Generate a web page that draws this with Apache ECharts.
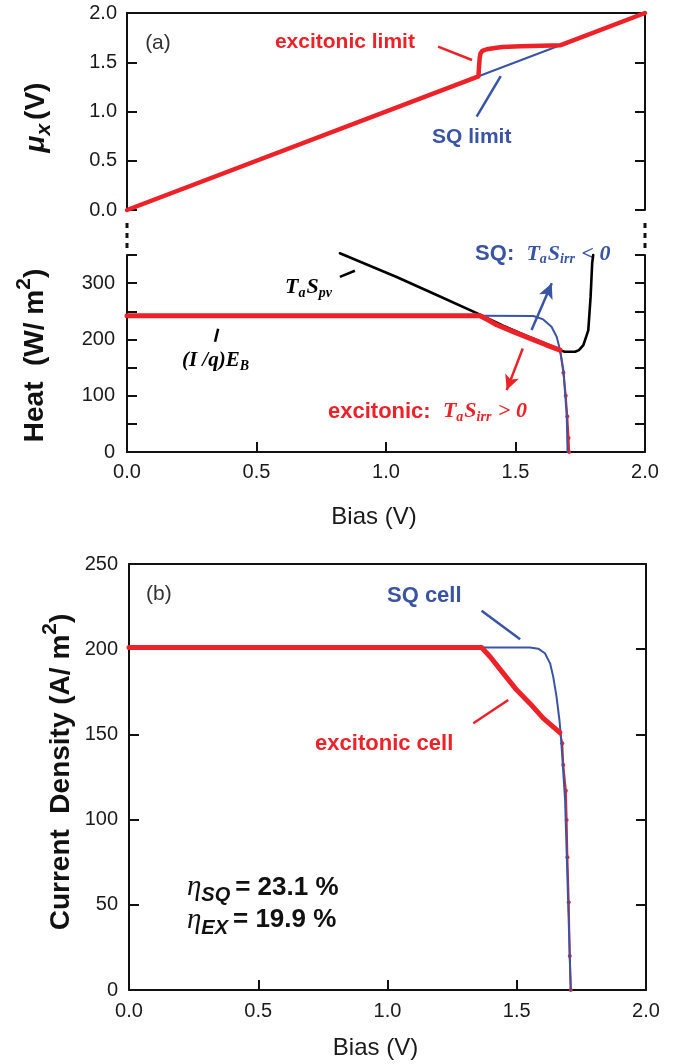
<!DOCTYPE html>
<html>
<head>
<meta charset="utf-8">
<script src="https://cdn.jsdelivr.net/npm/echarts@6/dist/echarts.min.js"></script>
<style>
html,body{margin:0;padding:0;background:#fff}
#chart{width:675px;height:1064px}
</style>
</head>
<body>
<div id="chart"></div>
<script>
// ---------- data ----------
// (a) upper: exciton chemical potential mu_x (V) versus bias (V)
const muSQ = [[0, 0], [1.36, 1.36], [1.67, 1.67], [2, 2]];
const muEX = [[0, 0], [1.357, 1.357], [1.359, 1.45], [1.362, 1.55], [1.365, 1.59], [1.372, 1.615],
  [1.389, 1.632], [1.42, 1.645], [1.45, 1.655], [1.52, 1.662], [1.6, 1.668], [1.672, 1.672], [2, 2]];

// (a) lower: heat terms (W/m^2) versus bias (V)
const heatTSpv = [[0.822, 353], [1.041, 311], [1.2, 278], [1.363, 244], [1.45, 225], [1.55, 205],
  [1.62, 192], [1.672, 181], [1.69, 178], [1.73, 178], [1.745, 181], [1.762, 190], [1.781, 216],
  [1.79, 276], [1.796, 335], [1.8, 350]];
const heatSQ = [[0, 242], [1.363, 242], [1.569, 241.6], [1.607, 235.6], [1.639, 222.6], [1.659, 204.8],
  [1.672, 181], [1.685, 145.6], [1.698, 62.7], [1.701, 0]];
const heatEX = [[0, 242], [1.363, 242], [1.397, 234], [1.427, 226], [1.5, 212], [1.556, 202],
  [1.62, 190], [1.672, 181]];
const heatEXtail = [[1.672, 181], [1.685, 141], [1.694, 100], [1.7, 63], [1.705, 25], [1.707, 0]];

// (b) current density (A/m^2) versus bias (V)
const curSQ = [[0, 201], [1.364, 201], [1.551, 201], [1.583, 200.3], [1.609, 197.6], [1.629, 191.7],
  [1.641, 183.9], [1.654, 172], [1.665, 158.5], [1.671, 148.7], [1.687, 111.5], [1.709, 0]];
const curEX = [[0, 201], [1.364, 201], [1.397, 195.6], [1.448, 185.8], [1.5, 176], [1.551, 168.2],
  [1.603, 159.4], [1.667, 151]];
const curEXtail = [[1.667, 151], [1.676, 144.8], [1.68, 132], [1.69, 117], [1.693, 99.8], [1.696, 77.9],
  [1.701, 51.5], [1.705, 20], [1.709, 0]];

// axis ranges and tick steps
const biasRange = [0, 2], biasStep = 0.5;
const muRange = [0, 2], muStep = 0.5;
const heatRange = [0, 350], heatStep = 50, heatLabelStep = 100;
const curRange = [0, 250], curStep = 50;

// efficiencies quoted in panel (b)
const etaSQ = '23.1', etaEX = '19.9';

// ---------- styling ----------
const RED = '#ec2228', BLUE = '#3a54a5', INK = '#111';
const SANS = '"Liberation Sans", Arial, Helvetica, sans-serif';
const SERIF = '"Liberation Serif", "Times New Roman", serif';

const chart = echarts.init(document.getElementById('chart'), null, {renderer: 'canvas'});

function frameAxis(extra) {
  return Object.assign({
    type: 'value',
    axisLine: {show: true, onZero: false, lineStyle: {color: INK, width: 2}},
    axisTick: {show: true, inside: true, length: 10, lineStyle: {color: INK, width: 2}},
    axisLabel: {show: false},
    splitLine: {show: false}
  }, extra);
}
const tickLabel = {show: true, color: '#1a1a1a', fontSize: 20, fontFamily: SANS};

const option = {
  animation: false,
  backgroundColor: '#fff',
  grid: [
    {left: 127, right: 30, top: 13, height: 197},
    {left: 127, right: 30, top: 255, height: 197},
    {left: 129, right: 29, top: 564, height: 426}
  ],
  xAxis: [
    // 0: upper panel, no bottom line
    frameAxis({gridIndex: 0, min: biasRange[0], max: biasRange[1], interval: biasStep,
      axisLine: {show: false}, axisTick: {show: false}}),
    // 1: upper panel top frame
    frameAxis({gridIndex: 0, position: 'top', min: biasRange[0], max: biasRange[1], interval: biasStep,
      axisTick: {show: false}}),
    // 2: heat panel bias axis
    frameAxis({gridIndex: 1, min: biasRange[0], max: biasRange[1], interval: biasStep,
      axisLabel: Object.assign({}, tickLabel, {margin: 10, formatter: v => v.toFixed(1)}),
      name: 'Bias (V)', nameLocation: 'middle', nameGap: 53,
      nameTextStyle: {fontSize: 24, fontFamily: SANS, color: '#1a1a1a', padding: [0, 24, 0, 0]}}),
    // 3: panel (b) bias axis
    frameAxis({gridIndex: 2, min: biasRange[0], max: biasRange[1], interval: biasStep,
      axisLabel: Object.assign({}, tickLabel, {margin: 11, formatter: v => v.toFixed(1)}),
      name: 'Bias (V)', nameLocation: 'middle', nameGap: 46,
      nameTextStyle: {fontSize: 24, fontFamily: SANS, color: '#1a1a1a', padding: [0, 24, 0, 0]}}),
    // 4: panel (b) top frame
    frameAxis({gridIndex: 2, position: 'top', min: biasRange[0], max: biasRange[1], interval: biasStep,
      axisTick: {show: false}})
  ],
  yAxis: [
    frameAxis({gridIndex: 0, min: muRange[0], max: muRange[1], interval: muStep,
      axisLabel: Object.assign({}, tickLabel, {margin: 10, formatter: v => v.toFixed(1)})}),
    frameAxis({gridIndex: 0, position: 'right', min: muRange[0], max: muRange[1], interval: muStep}),
    frameAxis({gridIndex: 1, min: heatRange[0], max: heatRange[1], interval: heatStep,
      axisLabel: Object.assign({}, tickLabel, {margin: 12, showMaxLabel: true,
        formatter: v => (v % heatLabelStep === 0 ? String(v) : '')})}),
    frameAxis({gridIndex: 1, position: 'right', min: heatRange[0], max: heatRange[1], interval: heatStep}),
    frameAxis({gridIndex: 2, min: curRange[0], max: curRange[1], interval: curStep,
      axisLabel: Object.assign({}, tickLabel, {margin: 11, formatter: v => String(v)})}),
    frameAxis({gridIndex: 2, position: 'right', min: curRange[0], max: curRange[1], interval: curStep})
  ],
  series: []
};

function leader(a, b, color, arrow) {
  return [{coord: a, lineStyle: {color: color, width: 2.5, type: 'solid'},
    symbol: 'none'}, {coord: b, symbol: arrow ? 'arrow' : 'none', symbolSize: arrow ? [11, 15] : 0}];
}
function marks(list) {
  return {silent: true, animation: false, symbol: 'none', label: {show: false},
    emphasis: {disabled: true}, data: list};
}
function line(name, data, xi, yi, color, width, z, extra) {
  return Object.assign({
    name: name, type: 'line', data: data, xAxisIndex: xi, yAxisIndex: yi,
    showSymbol: false, symbol: 'none', z: z, clip: false,
    lineStyle: {color: color, width: width, join: 'round', cap: 'round'},
    itemStyle: {color: color}, emphasis: {disabled: true}
  }, extra || {});
}

// drawing order: red tails under the blue curves, thick red curves on top of both
option.series = [
  // upper panel
  line('SQ limit', muSQ, 0, 0, BLUE, 2, 2),
  line('excitonic limit', muEX, 0, 0, RED, 4.5, 4, {
    markLine: marks([
      leader([1.201, 1.658], [1.332, 1.523], RED),
      leader([1.350, 0.947], [1.443, 1.360], BLUE)
    ])
  }),
  // heat panel
  line('TaSpv', heatTSpv, 2, 2, '#000', 2.6, 2, {
    markLine: marks([
      leader([0.822, 311], [0.880, 322], '#000'),
      leader([0.352, 219], [0.340, 196], '#000')
    ])
  }),
  line('excitonic heat tail', heatEXtail, 2, 2, RED, 2, 2, {
    showSymbol: true, showAllSymbol: true, symbol: 'circle', symbolSize: 4
  }),
  line('SQ heat', heatSQ, 2, 2, BLUE, 2, 3, {
    markLine: marks([
      leader([1.562, 216.7], [1.640, 299.6], BLUE, true),
      leader([1.528, 184], [1.466, 110], RED, true)
    ])
  }),
  line('excitonic heat', heatEX, 2, 2, RED, 5, 4),
  // panel (b)
  line('excitonic cell tail', curEXtail, 3, 4, RED, 2, 2, {
    showSymbol: true, showAllSymbol: true, symbol: 'circle', symbolSize: 4
  }),
  line('SQ cell', curSQ, 3, 4, BLUE, 2, 3, {
    markLine: marks([
      leader([1.364, 222.6], [1.513, 205.8], BLUE),
      leader([1.332, 156.5], [1.467, 170.2], RED)
    ])
  }),
  line('excitonic cell', curEX, 3, 4, RED, 5, 4)
];

chart.setOption(option);

// ---------- text annotations (subscripts / superscripts laid out piecewise) ----------
const measureCtx = document.createElement('canvas').getContext('2d');
function fontOf(p) {
  return (p.italic ? 'italic ' : '') + (p.bold ? 'bold ' : '') + p.size + 'px ' + (p.family || SANS);
}
function textWidth(t, f) { measureCtx.font = f; return measureCtx.measureText(t).width; }
function runOf(parts, color) {
  let x = 0;
  const els = [];
  parts.forEach(p => {
    const f = fontOf(p);
    els.push({
      type: 'text', x: x, y: p.dy || 0, silent: true,
      style: {text: p.text, font: f, fill: p.color || color,
        textAlign: 'left', textVerticalAlign: 'middle', align: 'left', verticalAlign: 'middle'}
    });
    x += textWidth(p.text, f) + (p.gap || 0);
  });
  return {els: els, width: x};
}
function labelAt(gridIndex, coord, parts, color) {
  const px = chart.convertToPixel({gridIndex: gridIndex}, coord);
  const r = runOf(parts, color);
  return {type: 'group', x: px[0], y: px[1], children: r.els, silent: true};
}
function verticalTitle(cx, cy, parts) {
  const r = runOf(parts, '#111');
  r.els.forEach(e => { e.x -= r.width / 2; });
  return {type: 'group', x: cx, y: cy, rotation: Math.PI / 2, children: r.els, silent: true};
}

const S = (text, size, o) => Object.assign({text: text, size: size, bold: true}, o || {});
const T = (text, size, o) => Object.assign({text: text, size: size, bold: true, italic: true, family: SERIF}, o || {});
function tsIrr(sign) {
  return [T('T', 22), T('a', 14, {dy: 6, gap: 1}), T('S', 22), T('irr', 14, {dy: 6, gap: 1}), T(sign, 22)];
}

const g0 = chart.convertToPixel({gridIndex: 0}, [0, 0]);
const g0r = chart.convertToPixel({gridIndex: 0}, [2, 0]);
const g1 = chart.convertToPixel({gridIndex: 1}, [0, 350]);
const g0mid = chart.convertToPixel({gridIndex: 0}, [0, 1]);
const g1mid = chart.convertToPixel({gridIndex: 1}, [0, 175]);
const g2mid = chart.convertToPixel({gridIndex: 2}, [0, 125]);

const graphics = [
  // broken-axis dots between the two halves of panel (a)
  {type: 'line', silent: true, shape: {x1: g0[0], y1: g0[1] + 13, x2: g0[0], y2: g1[1] - 6},
    style: {stroke: INK, lineWidth: 3, lineDash: [5, 5]}},
  {type: 'line', silent: true, shape: {x1: g0r[0], y1: g0[1] + 13, x2: g0r[0], y2: g1[1] - 6},
    style: {stroke: INK, lineWidth: 3, lineDash: [5, 5]}},

  labelAt(0, [0.07, 1.69], [S('(a)', 21, {bold: false})], '#333'),
  labelAt(0, [0.571, 1.706], [S('excitonic limit', 21)], RED),
  labelAt(0, [1.178, 0.744], [S('SQ limit', 21)], BLUE),

  labelAt(1, [0.61, 293], [T('T', 22), T('a', 14, {dy: 6, gap: 1}), T('S', 22), T('pv', 14, {dy: 6})], '#000'),
  labelAt(1, [0.212, 163], [T('(I /q)E', 21), T('B', 14, {dy: 6})], '#000'),
  labelAt(1, [1.344, 352], [S('SQ:  ', 22)].concat(tsIrr(' < 0')), BLUE),
  labelAt(1, [0.776, 72], [S('excitonic:  ', 22)].concat(tsIrr(' > 0')), RED),

  labelAt(2, [0.066, 232], [S('(b)', 21, {bold: false})], '#333'),
  labelAt(2, [0.998, 231], [S('SQ cell', 22)], BLUE),
  labelAt(2, [0.72, 144.4], [S('excitonic cell', 22)], RED),
  labelAt(2, [0.224, 60], [S('\u03b7', 29, {italic: true, bold: false, family: SERIF}),
    S('SQ', 20, {italic: true, dy: 8, gap: 5}), S('= ' + etaSQ + ' %', 26)], '#111'),
  labelAt(2, [0.224, 41], [S('\u03b7', 29, {italic: true, bold: false, family: SERIF}),
    S('EX', 20, {italic: true, dy: 8, gap: 5}), S('= ' + etaEX + ' %', 26)], '#111'),

  // rotated axis titles
  verticalTitle(g0mid[0] - 91, g0mid[1] + 6, [S('\u03bc', 28, {italic: true}), S('x', 21, {italic: true, dy: 8, gap: 4}), S('(V)', 28)]),
  verticalTitle(g1mid[0] - 92, g1mid[1] + 2, [S('Heat  (W/ m', 28), S('2', 21, {dy: -11}), S(')', 28)]),
  verticalTitle(g2mid[0] - 68, g2mid[1] - 5, [S('Current  Density (A/ m', 28), S('2', 21, {dy: -11}), S(')', 28)])
];

chart.setOption({graphic: graphics});
</script>
</body>
</html>
